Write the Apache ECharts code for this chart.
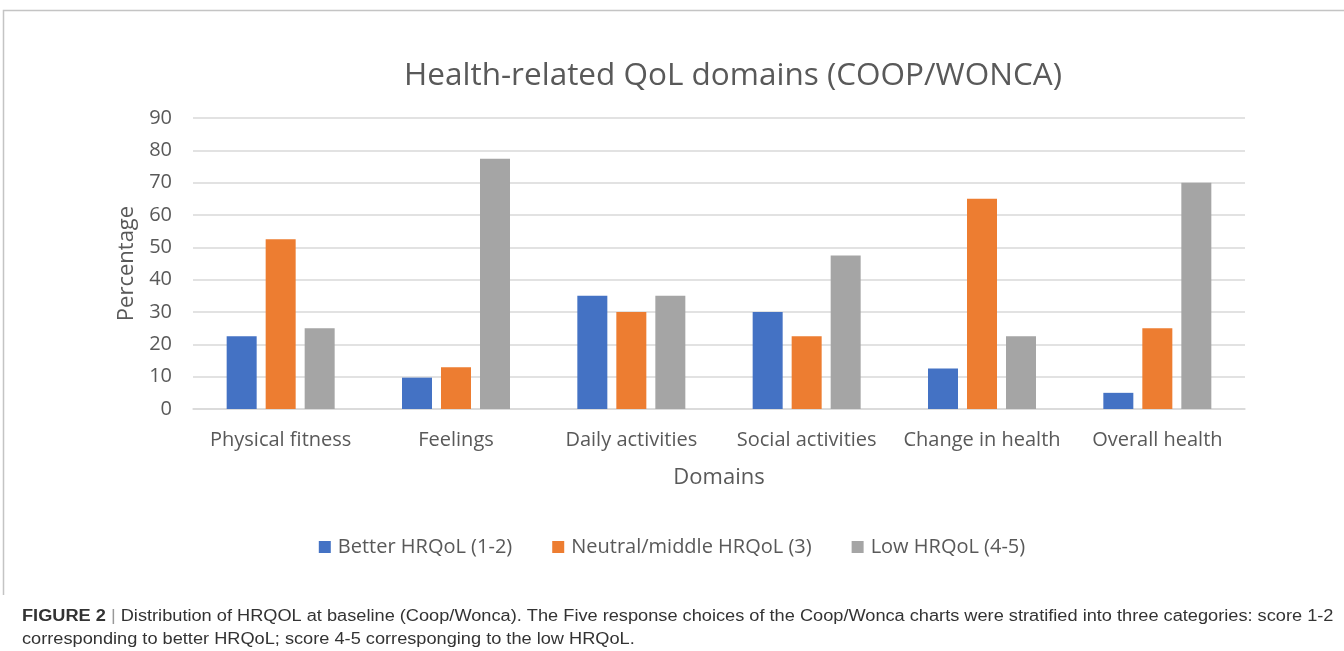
<!DOCTYPE html>
<html>
<head>
<meta charset="utf-8">
<script src="https://cdn.jsdelivr.net/npm/echarts@6/dist/echarts.min.js"></script>
<style>
html,body{margin:0;padding:0;background:#fff;}
#chart{width:1344px;height:651px;}
</style>
</head>
<body>
<div id="chart"></div>
<script>
const categories = ['Physical fitness','Feelings','Daily activities','Social activities','Change in health','Overall health'];
const seriesNames = ['Better HRQoL (1-2)','Neutral/middle HRQoL (3)','Low HRQoL (4-5)'];
const betterValues = [22.5, 9.7, 35, 30, 12.5, 5];
const neutralValues = [52.5, 12.9, 30, 22.5, 65, 25];
const lowValues = [25, 77.4, 35, 47.5, 22.5, 70];
const yTicks = [0,10,20,30,40,50,60,70,80,90];
const colors = ['#4472C4','#ED7D31','#A5A5A5'];

const font = '"Open Sans", Lato, sans-serif';
const capFont = '"Liberation Sans", Arial, sans-serif';
const chart = echarts.init(document.getElementById('chart'), null, {renderer:'canvas'});
const option = {
  backgroundColor:'#fff',
  animation:false,
  title:{
    text:'Health-related QoL domains (COOP/WONCA)',
    top:60, left:733, textAlign:'center', padding:0,
    textStyle:{fontFamily:font, fontSize:31.5, fontWeight:'normal', color:'#595959'}
  },
  legend:{
    data:seriesNames,
    top:532, left:'center',
    itemWidth:12, itemHeight:12, itemGap:40,
    icon:'rect',
    textStyle:{fontFamily:font, fontSize:20, color:'#595959', padding:[0,0,0,2]}
  },
  grid:{left:193, right:99, top:118, bottom:242},
  xAxis:{
    type:'category', data:categories,
    name:'Domains', nameLocation:'middle', nameGap:58,
    nameTextStyle:{fontFamily:font, fontSize:22, color:'#595959'},
    axisLine:{lineStyle:{color:'#d9d9d9', width:1.5}},
    axisTick:{show:false},
    axisLabel:{interval:0, fontFamily:font, fontSize:20, color:'#595959', margin:21}
  },
  yAxis:{
    type:'value', min:0, max:90, interval:10,
    name:'Percentage', nameLocation:'middle', nameGap:54,
    nameTextStyle:{fontFamily:font, fontSize:22, color:'#595959'},
    axisLine:{show:false}, axisTick:{show:false},
    axisLabel:{fontFamily:font, fontSize:20, color:'#595959', margin:21,
      formatter:v=>yTicks.includes(v)?String(v):''},
    splitLine:{lineStyle:{color:'#d9d9d9', width:1.5}}
  },
  series:[
    {name:seriesNames[0], type:'bar', data:betterValues, barWidth:30, barGap:'30%', itemStyle:{color:colors[0]}},
    {name:seriesNames[1], type:'bar', data:neutralValues, barWidth:30, barGap:'30%', itemStyle:{color:colors[1]}},
    {name:seriesNames[2], type:'bar', data:lowValues, barWidth:30, barGap:'30%', itemStyle:{color:colors[2]}}
  ],
  graphic:[
    {type:'polyline', shape:{points:[[3.5,595],[3.5,10.5],[1344,10.5]]}, style:{stroke:'#c4c4c4', lineWidth:1.5, fill:null}, silent:true},
    {type:'text', x:22, y:605, scaleX:1.137, style:{
      text:'{b|FIGURE 2} {s||} Distribution of HRQOL at baseline (Coop/Wonca). The Five response choices of the Coop/Wonca charts were stratified into three categories: score 1-2\ncorresponding to better HRQoL; score 4-5 corresponging to the low HRQoL.',
      fontFamily:capFont, fontSize:16, lineHeight:23, fill:'#333',
      rich:{
        b:{fontWeight:'bold', fontFamily:capFont, fontSize:16, fill:'#333'},
        s:{fontFamily:capFont, fontSize:16, fill:'#999'}
      }
    }}
  ]
};
chart.setOption(option);
</script>
</body>
</html>
